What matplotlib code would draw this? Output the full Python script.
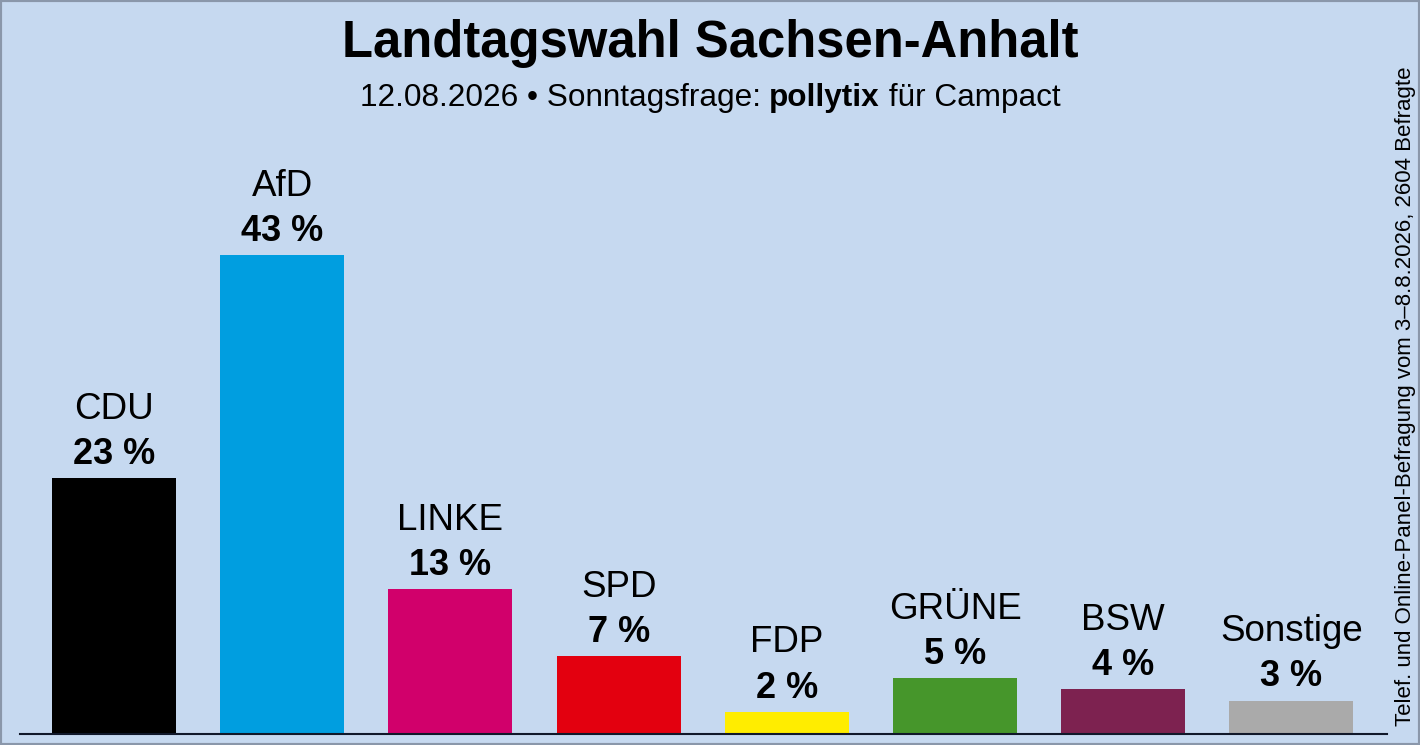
import matplotlib
matplotlib.use("Agg")
import matplotlib.pyplot as plt
from matplotlib.patches import Rectangle

# Data
parties = ["CDU", "AfD", "LINKE", "SPD", "FDP", "GRÜNE", "BSW", "Sonstige"]
values = [23, 43, 13, 7, 2, 5, 4, 3]
colors = ["#000000", "#009EE0", "#D1006B", "#E3000F", "#FFED00", "#46962B", "#7D2250", "#AAAAAA"]

title = "Landtagswahl Sachsen-Anhalt"
subtitle_parts = [("12.08.2026 • Sonntagsfrage: ", "normal"), ("pollytix", "bold"), (" für Campact", "normal")]
side_note = "Telef. und Online-Panel-Befragung vom 3–8.8.2026, 2604 Befragte"

plt.rcParams["font.family"] = ["Liberation Sans", "DejaVu Sans"]
bg = "#C6D9F0"

W, H = 1420, 745
fig = plt.figure(figsize=(W / 100, H / 100), dpi=100, facecolor=bg)

# axes placed in pixel coordinates
left, right, bottom, top = 20, 1387, 734, 100
ax = fig.add_axes([left / W, (H - bottom) / H, (right - left) / W, (bottom - top) / H])
ax.set_facecolor(bg)
x = list(range(len(parties)))
ax.bar(x, values, width=0.737, color=colors)
ax.set_xlim(-0.559, 7.568)
ax.set_ylim(0, (bottom - top) / 11.13)
for s in ["top", "right", "left"]:
    ax.spines[s].set_visible(False)
ax.spines["bottom"].set_linewidth(1.5)
ax.spines["bottom"].set_color("#10182a")
ax.set_xticks([])
ax.set_yticks([])

for xi, v, name in zip(x, values, parties):
    ax.annotate(f"{v} %", (xi, v), xytext=(0, 17), textcoords="offset points",
                ha="center", va="center", fontsize=26, fontweight="bold")
    ax.annotate(name, (xi, v), xytext=(0, 49.5), textcoords="offset points",
                ha="center", va="center", fontsize=26.5)

fig.text(0.5, 1 - 44 / H, title, ha="center", va="center", fontsize=36.5, fontweight="bold")

# subtitle with bold part, laid out piece by piece
renderer = fig.canvas.get_renderer()
pieces = []
for txt, wt in subtitle_parts:
    t = fig.text(0, 1 - 98 / H, txt, ha="left", va="center", fontsize=22.7, fontweight=wt)
    pieces.append(t)
widths = [p.get_window_extent(renderer).width for p in pieces]
xpos = (W - sum(widths)) / 2
for p, w in zip(pieces, widths):
    p.set_x(xpos / W)
    xpos += w

fig.text(1406 / W, 1 - 396 / H, side_note, rotation=90, ha="center", va="center", fontsize=16)

fig.add_artist(Rectangle((0, 0), 1, 1, transform=fig.transFigure, fill=False,
                         edgecolor="#8a97aa", linewidth=3))

fig.savefig("out.png", dpi=100, facecolor=bg)
